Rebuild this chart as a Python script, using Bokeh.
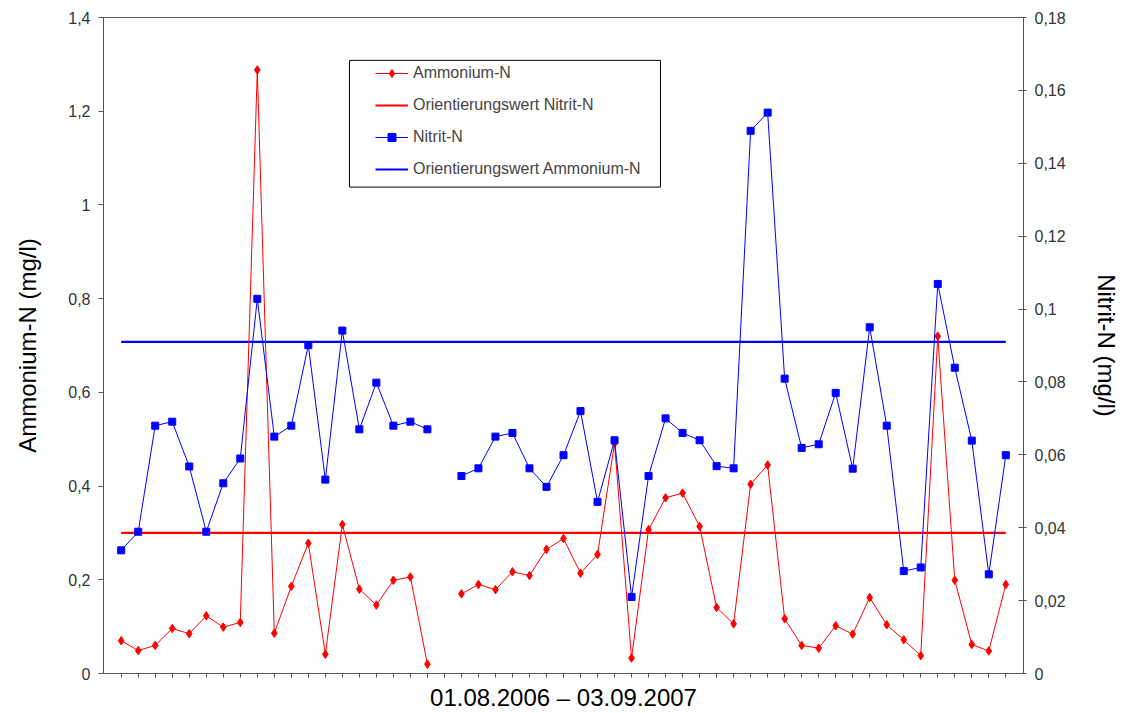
from bokeh.plotting import figure
from bokeh.models import (Range1d, LinearAxis, FixedTicker, Legend, LegendItem,
                          BoxAnnotation, CustomJSTickFormatter, CustomLabelingPolicy)
from bokeh.embed import file_html
from bokeh.resources import INLINE

nan = float("nan")

# Ammonium-N (mg/l), left axis; gap at one sampling date
ammonium = [0.070, 0.049, 0.060, 0.096, 0.085, 0.123, 0.099, 0.109, 1.288, 0.086,
            0.186, 0.278, 0.041, 0.318, 0.180, 0.146, 0.199, 0.206, 0.020, nan,
            0.170, 0.190, 0.179, 0.217, 0.209, 0.265, 0.288, 0.214, 0.254, 0.491,
            0.033, 0.307, 0.375, 0.385, 0.314, 0.141, 0.106, 0.404, 0.445, 0.117,
            0.060, 0.054, 0.102, 0.084, 0.162, 0.104, 0.072, 0.038, 0.720, 0.199,
            0.062, 0.048, 0.190]

# Nitrit-N (mg/l), right axis
nitrite = [0.0338, 0.0389, 0.0680, 0.0691, 0.0568, 0.0389, 0.0522, 0.0590, 0.1028, 0.0650,
           0.0680, 0.0901, 0.0532, 0.0941, 0.0670, 0.0798, 0.0680, 0.0691, 0.0670, nan,
           0.0542, 0.0563, 0.0650, 0.0660, 0.0563, 0.0512, 0.0599, 0.0720, 0.0471, 0.0640,
           0.0210, 0.0542, 0.0700, 0.0660, 0.0640, 0.0569, 0.0563, 0.1489, 0.1539, 0.0809,
           0.0619, 0.0629, 0.0770, 0.0562, 0.0950, 0.0680, 0.0281, 0.0291, 0.1069, 0.0839,
           0.0639, 0.0272, 0.0599]

ref_red = 0.3      # "Orientierungswert Nitrit-N" (drawn on left axis)
ref_blue = 0.091   # "Orientierungswert Ammonium-N" (drawn on right axis)

left_ticks = [0, 0.2, 0.4, 0.6, 0.8, 1.0, 1.2, 1.4]
right_ticks = [0, 0.02, 0.04, 0.06, 0.08, 0.10, 0.12, 0.14, 0.16, 0.18]

series_names = ["Ammonium-N", "Orientierungswert Nitrit-N", "Nitrit-N",
                "Orientierungswert Ammonium-N"]
x_title = "01.08.2006 \u2013 03.09.2007"
y_left_title = "Ammonium-N (mg/l)"
y_right_title = "Nitrit-N (mg/l)"

x = list(range(len(ammonium)))
FONT = "Liberation Sans"
RED = "#FF0000"
BLUE = "#0000FF"
AXC = "#555555"

p = figure(width=1125, height=713, output_backend="svg", toolbar_location=None,
           x_range=Range1d(x[0] - 1.04, x[-1] + 1.04),
           y_range=Range1d(left_ticks[0], left_ticks[-1]),
           min_border_left=103, min_border_right=102, min_border_top=17,
           min_border_bottom=38)
p.extra_y_ranges = {"nit": Range1d(right_ticks[0], right_ticks[-1])}
p.xgrid.visible = False
p.ygrid.visible = False
p.outline_line_color = AXC
p.background_fill_color = "white"
p.border_fill_color = "white"

# reference lines
r_ref_red = p.line([x[0], x[-1]], [ref_red, ref_red], color=RED, line_width=2.2)
r_ref_blue = p.line([x[0], x[-1]], [ref_blue, ref_blue], color=BLUE, line_width=2.2,
                    y_range_name="nit")

# Ammonium series
r_am_line = p.line(x, ammonium, color=RED, line_width=1)
r_am_pts = p.scatter(x, ammonium, marker="diamond", size=8.5, color=RED)

# Nitrit series
r_ni_line = p.line(x, nitrite, color=BLUE, line_width=1, y_range_name="nit")
r_ni_pts = p.scatter(x, nitrite, marker="square", size=7, color=BLUE,
                     y_range_name="nit")

# left axis
yl = p.yaxis[0]
yl.ticker = FixedTicker(ticks=left_ticks)
yl.formatter = CustomJSTickFormatter(
    code="return String(Math.round(tick*100)/100).replace('.', ',');")
yl.axis_label = y_left_title

# right axis
yr = LinearAxis(y_range_name="nit", axis_label=y_right_title)
yr.ticker = FixedTicker(ticks=right_ticks)
yr.formatter = CustomJSTickFormatter(
    code="return String(Math.round(tick*1000)/1000).replace('.', ',');")
p.add_layout(yr, "right")

for ax in (yl, yr):
    ax.axis_line_color = AXC
    ax.major_tick_line_color = AXC
    ax.minor_tick_line_color = None
    ax.major_label_text_font = FONT
    ax.major_label_text_font_size = "16px"
    ax.major_label_text_color = "#333333"
    ax.major_label_standoff = 8
    ax.axis_label_text_font = FONT
    ax.axis_label_text_font_size = "24px"
    ax.axis_label_text_font_style = "normal"
    ax.axis_label_text_color = "#000000"
    ax.axis_label_standoff = 24
yl.major_tick_out = 5
yl.major_tick_in = 0
yr.major_tick_out = 3
yr.major_tick_in = 5

# bottom axis: tick marks only, no tick labels
xa = p.xaxis[0]
xa.ticker = FixedTicker(ticks=x)
xa.formatter = CustomJSTickFormatter(code="return '';")
xa.major_label_policy = CustomLabelingPolicy(
    code="for (const i of Array.from(indices)) { indices.unset(i) }")
xa.major_label_text_font_size = "10px"
xa.major_label_standoff = 0
xa.major_tick_out = 4
xa.major_tick_in = 0
xa.minor_tick_line_color = None
xa.axis_line_color = AXC
xa.major_tick_line_color = AXC
xa.axis_label = x_title
xa.axis_label_text_font = FONT
xa.axis_label_text_font_size = "24px"
xa.axis_label_text_font_style = "normal"
xa.axis_label_text_color = "#000000"
xa.axis_label_standoff = 6

# legend frame
box = BoxAnnotation(left=13.42, right=31.7, top=1.3085, bottom=1.038,
                    fill_color="white", fill_alpha=1.0,
                    line_color="#000000", line_width=1, line_alpha=1.0)
p.add_layout(box)

legend = Legend(items=[
    LegendItem(label=series_names[0], renderers=[r_am_line, r_am_pts]),
    LegendItem(label=series_names[1], renderers=[r_ref_red]),
    LegendItem(label=series_names[2], renderers=[r_ni_line, r_ni_pts]),
    LegendItem(label=series_names[3], renderers=[r_ref_blue]),
], location=(266, 488), padding=6, spacing=12, glyph_width=33, glyph_height=20,
    label_height=20, label_standoff=5, label_text_font=FONT,
    label_text_font_size="16px", border_line_alpha=0, background_fill_alpha=0,
    margin=0)
p.add_layout(legend)

open("out.html", "w").write(file_html(p, INLINE))
